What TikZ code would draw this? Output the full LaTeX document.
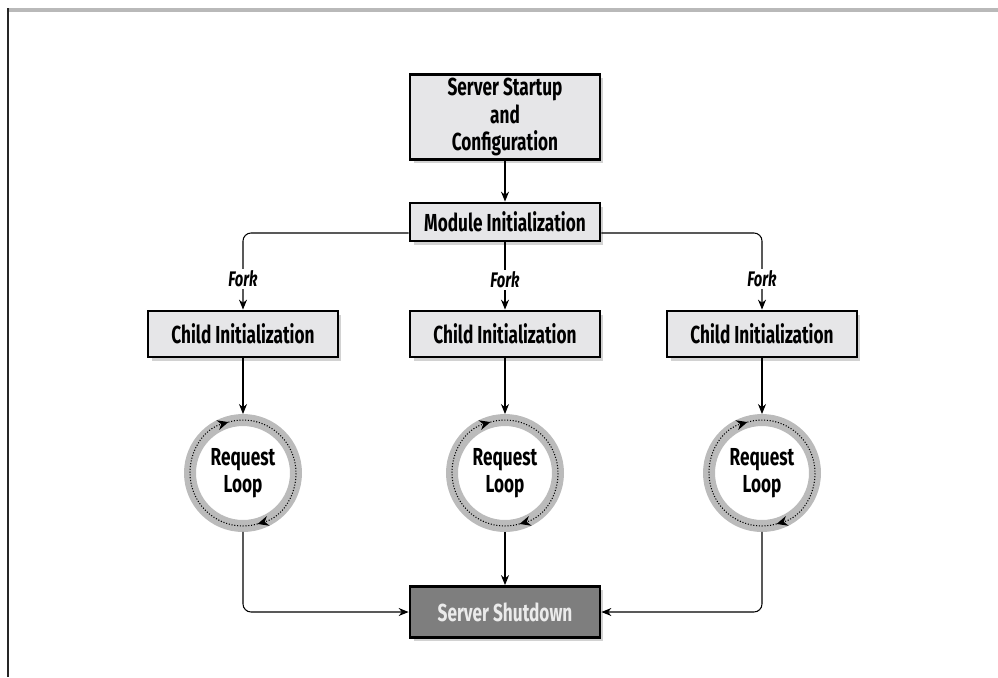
\documentclass[tikz,border=0pt]{standalone}
\usepackage{fontspec}
\setmainfont{Fira Sans}[FakeStretch=0.7]
\usetikzlibrary{arrows.meta,shadows}
\definecolor{boxgray}{HTML}{E6E6E8}
\definecolor{ringgray}{HTML}{BBBBBB}
\definecolor{darkbox}{HTML}{7E7E7E}
\tikzset{
	stagebox/.style = {draw = black, line width = 1.6pt, fill = boxgray,
		minimum width = 3.8cm, align = center, inner sep = 2pt,
		font = \fontsize{14}{15.5}\selectfont\bfseries,
		drop shadow = {shadow xshift = 0.07cm, shadow yshift = -0.07cm, fill = black!35, opacity = 0.5}},
	loopring/.style = {circle, draw = ringgray, line width = 0.24cm, fill = white,
		minimum size = 2.12cm, inner sep = 0pt, align = center,
		font = \fontsize{14}{15.5}\selectfont\bfseries},
	loopdots/.style = {densely dotted, line width = 0.6pt, -{Stealth[length = 0.22cm, width = 0.2cm]}},
	link/.style = {line width = 0.6pt, ->, rounded corners = 0.16cm},
	forklabel/.style = {fill = white, inner sep = 1pt, font = \fontsize{12}{13}\selectfont\bfseries\itshape}
}
\begin{document}
\begin{tikzpicture}[x = 0.02cm, y = 0.02cm, > = {Stealth[length = 0.2cm, width = 0.16cm]}]
	\useasboundingbox (0,0) rectangle (998,-677);
	% cadre
	\draw[gray!55, line width = 0.08cm] (7,-10) -- (998,-10);
	\draw[black!85, line width = 0.04cm] (8,-8) -- (8,-677);
	% boites principales
	\node[stagebox, minimum height = 1.16cm] (startup) at (505,-117) {Server Startup\\and\\Configuration};
	\node[stagebox, minimum height = 0.76cm] (modinit) at (505,-222) {Module Initialization};
	\node[stagebox, minimum height = 1.02cm, fill = darkbox, text = black!8] (shutdown) at (505,-612) {Server Shutdown};
	% enfants et boucles
	\foreach \col/\x in {L/243, M/505, R/762}{
		\node[stagebox, minimum height = 0.92cm] (child\col) at (\x,-334) {Child Initialization};
		\node[loopring] (loop\col) at (\x,-473) {Request\\Loop};
		\draw[loopdots] (loop\col) ++(106:1.06cm) arc[start angle = 106, end angle = -74, radius = 1.06cm];
		\draw[loopdots] (loop\col) ++(-74:1.06cm) arc[start angle = -74, end angle = -254, radius = 1.06cm];
		\draw[link] (child\col.south) -- (loop\col.north);
	}
	\draw[link] (startup.south) -- (modinit.north);
	% Fork
	\draw[link] ([yshift = -0.22cm]modinit.west) -| node[forklabel, pos = 0.8] {Fork} (childL.north);
	\draw[link] (modinit.south) -- node[forklabel, pos = 0.56] {Fork} (childM.north);
	\draw[link] ([yshift = -0.22cm]modinit.east) -| node[forklabel, pos = 0.8] {Fork} (childR.north);
	% vers l'arret
	\draw[link] (loopL.south) |- (shutdown.west);
	\draw[link] (loopM.south) -- (shutdown.north);
	\draw[link] (loopR.south) |- (shutdown.east);
\end{tikzpicture}
\end{document}
